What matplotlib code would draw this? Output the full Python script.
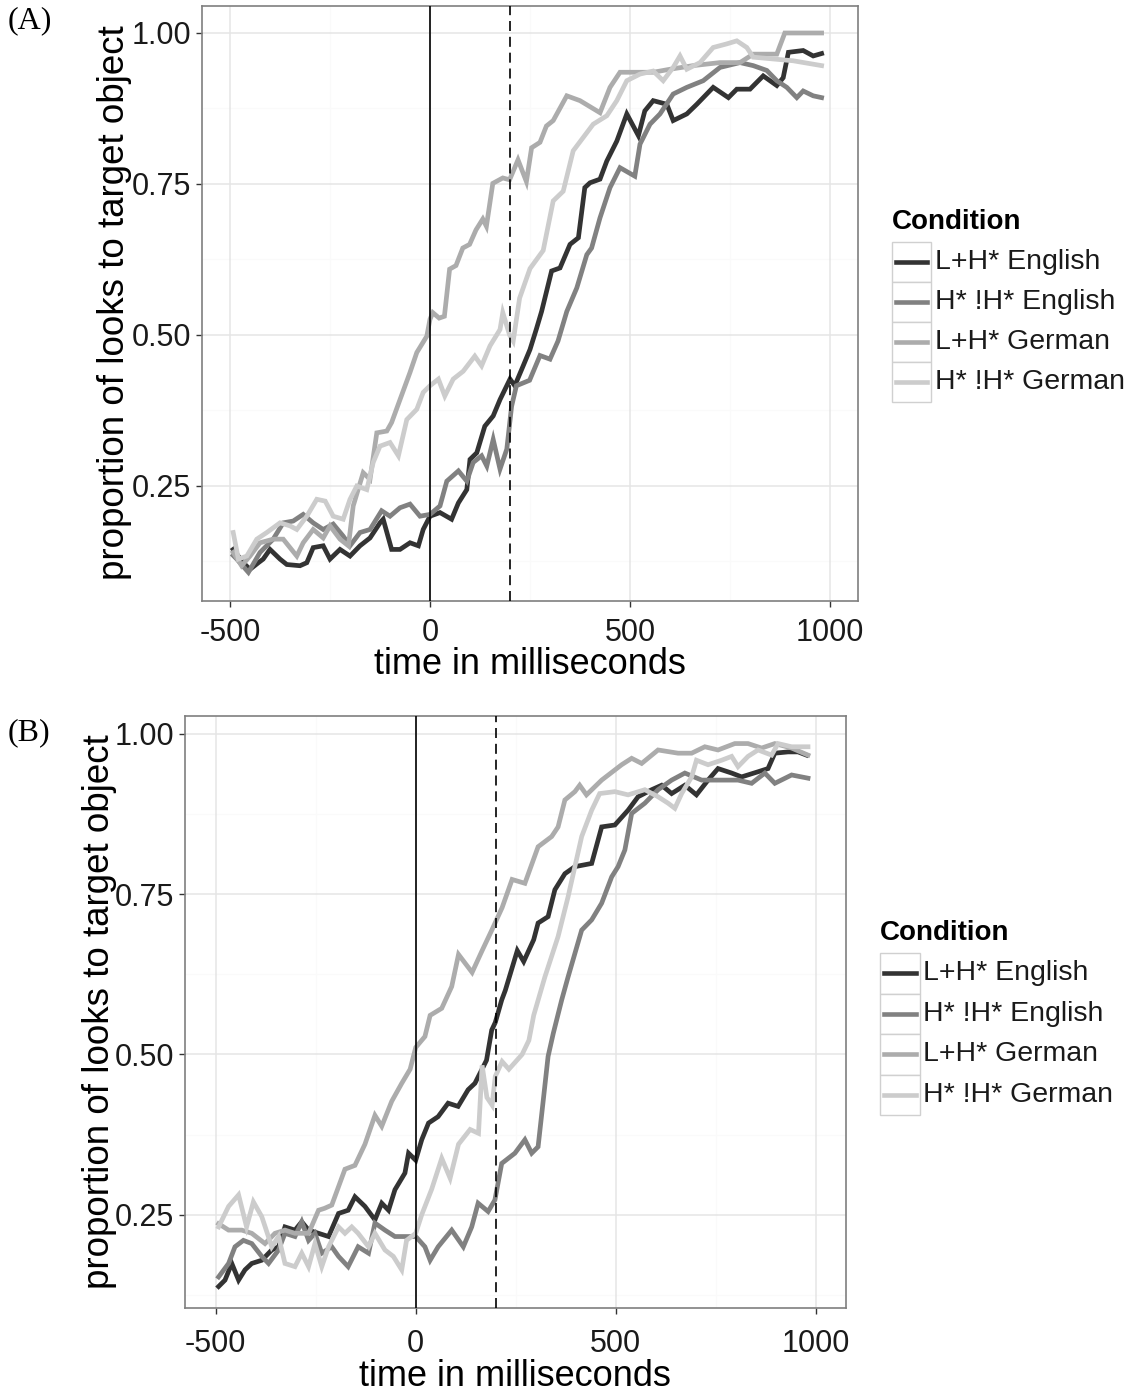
import matplotlib
matplotlib.use('Agg')
import matplotlib.pyplot as plt
from matplotlib.lines import Line2D
from matplotlib.patches import Rectangle

plt.rcParams['font.family'] = ['Liberation Sans', 'DejaVu Sans']
plt.rcParams['axes.unicode_minus'] = False

W, H = 1128, 1392

conditions = ["L+H* English", "H* !H* English", "L+H* German", "H* !H* German"]
colors = ["#333333", "#818181", "#ACACAC", "#CCCCCC"]
x_ticks = [-500, 0, 500, 1000]
x_tick_labels = ["-500", "0", "500", "1000"]
y_ticks = [0.25, 0.50, 0.75, 1.00]
y_tick_labels = ["0.25", "0.50", "0.75", "1.00"]
x_minor = [-250, 250, 750]
y_minor = [0.125, 0.375, 0.625, 0.875]
onset_ms = 0
shift_ms = 200
x_title = "time in milliseconds"
y_title = "proportion of looks to target object"
legend_title = "Condition"

# ---------------- Panel A ----------------
a_lhe_t = [-492, -467, -450, -429, -417, -400, -375, -358, -325, -308, -292, -267, -250, -225, -200,
           -175, -150, -125, -117, -96, -75, -50, -29, -17, 0, 25, 54, 71, 92, 100, 117, 137, 158,
           175, 200, 212, 233, 250, 266, 279, 304, 325, 350, 371, 387, 400, 425, 442, 467, 492,
           521, 537, 558, 592, 608, 642, 667, 708, 746, 767, 800, 833, 867, 883, 896, 933, 958, 979]
a_lhe_v = [0.145, 0.123, 0.112, 0.123, 0.129, 0.145, 0.129, 0.120, 0.118, 0.123, 0.148, 0.151, 0.129,
           0.145, 0.134, 0.151, 0.164, 0.189, 0.195, 0.145, 0.145, 0.156, 0.151, 0.178, 0.200, 0.206,
           0.195, 0.222, 0.244, 0.294, 0.305, 0.349, 0.366, 0.393, 0.427, 0.416, 0.449, 0.476, 0.510,
           0.539, 0.606, 0.611, 0.650, 0.661, 0.744, 0.752, 0.758, 0.788, 0.821, 0.866, 0.830, 0.871,
           0.888, 0.882, 0.855, 0.866, 0.882, 0.910, 0.893, 0.907, 0.907, 0.929, 0.913, 0.926, 0.968,
           0.971, 0.962, 0.966]

a_hhe_t = [-492, -483, -454, -425, -392, -367, -342, -317, -292, -267, -242, -217, -200, -175, -150,
           -121, -100, -75, -50, -25, 0, 25, 42, 71, 92, 108, 129, 142, 158, 175, 192, 204, 216,
           249, 275, 300, 320, 342, 367, 392, 404, 425, 450, 475, 512, 525, 550, 575, 608, 642,
           683, 725, 775, 808, 842, 867, 892, 917, 933, 958, 979]
a_hhe_v = [0.135, 0.129, 0.107, 0.140, 0.162, 0.189, 0.192, 0.203, 0.189, 0.178, 0.187, 0.167, 0.151,
           0.173, 0.178, 0.209, 0.200, 0.214, 0.220, 0.200, 0.203, 0.217, 0.258, 0.275, 0.258, 0.289,
           0.300, 0.283, 0.327, 0.278, 0.311, 0.382, 0.416, 0.425, 0.466, 0.460, 0.490, 0.539, 0.578,
           0.633, 0.644, 0.694, 0.744, 0.777, 0.763, 0.816, 0.849, 0.866, 0.899, 0.910, 0.921, 0.943,
           0.951, 0.946, 0.938, 0.921, 0.910, 0.893, 0.904, 0.896, 0.893]

a_lhg_t = [-492, -471, -450, -425, -392, -367, -333, -317, -292, -267, -250, -225, -204, -192, -167,
           -150, -133, -108, -96, -75, -50, -33, -8, 0, 7, 23, 36, 49, 65, 82, 99, 115, 132, 141,
           157, 182, 199, 220, 241, 254, 275, 291, 308, 342, 375, 425, 450, 475, 517, 558, 600,
           658, 725, 775, 808, 867, 887, 979]
a_lhg_v = [0.140, 0.118, 0.134, 0.156, 0.162, 0.162, 0.134, 0.156, 0.178, 0.164, 0.184, 0.162, 0.151,
           0.217, 0.272, 0.261, 0.338, 0.341, 0.355, 0.393, 0.438, 0.471, 0.498, 0.526, 0.537, 0.528,
           0.531, 0.609, 0.615, 0.644, 0.650, 0.674, 0.692, 0.680, 0.751, 0.760, 0.757, 0.790, 0.754,
           0.810, 0.819, 0.846, 0.855, 0.896, 0.888, 0.868, 0.910, 0.935, 0.935, 0.935, 0.940, 0.946,
           0.951, 0.951, 0.965, 0.965, 1.000, 1.000]

a_hhg_t = [-492, -479, -458, -433, -408, -375, -350, -333, -308, -283, -262, -242, -217, -200, -183,
           -158, -142, -125, -100, -79, -58, -33, -17, 0, 21, 37, 58, 83, 112, 129, 150, 175, 182,
           199, 208, 224, 250, 283, 308, 333, 358, 383, 408, 442, 467, 492, 525, 558, 583, 608,
           625, 642, 675, 708, 742, 767, 792, 808, 858, 908, 979]
a_hhg_v = [0.173, 0.129, 0.134, 0.162, 0.173, 0.189, 0.184, 0.178, 0.200, 0.228, 0.225, 0.200, 0.195,
           0.228, 0.250, 0.244, 0.289, 0.316, 0.322, 0.300, 0.360, 0.377, 0.405, 0.416, 0.427, 0.399,
           0.427, 0.440, 0.465, 0.449, 0.482, 0.509, 0.537, 0.500, 0.490, 0.561, 0.610, 0.640, 0.722,
           0.738, 0.805, 0.827, 0.849, 0.863, 0.888, 0.921, 0.932, 0.937, 0.921, 0.943, 0.962, 0.940,
           0.951, 0.976, 0.982, 0.987, 0.976, 0.960, 0.957, 0.954, 0.946]

# ---------------- Panel B ----------------
b_lhe_t = [-493, -477, -460, -443, -427, -410, -385, -360, -343, -327, -302, -285, -268, -243, -218,
           -193, -169, -152, -127, -102, -85, -68, -52, -27, -18, 0, 15, 32, 56, 81, 106, 131, 148,
           165, 177, 190, 199, 215, 224, 254, 270, 295, 306, 331, 348, 373, 398, 440, 465, 498,
           531, 556, 590, 615, 640, 673, 702, 731, 756, 790, 815, 856, 881, 898, 931, 956, 977]
b_lhe_v = [0.138, 0.148, 0.174, 0.148, 0.164, 0.174, 0.179, 0.195, 0.200, 0.231, 0.226, 0.239, 0.226,
           0.221, 0.216, 0.252, 0.257, 0.278, 0.263, 0.242, 0.268, 0.257, 0.289, 0.315, 0.346, 0.335,
           0.367, 0.393, 0.403, 0.424, 0.419, 0.445, 0.455, 0.476, 0.491, 0.538, 0.550, 0.585, 0.600,
           0.662, 0.645, 0.679, 0.705, 0.715, 0.757, 0.782, 0.793, 0.798, 0.855, 0.858, 0.881, 0.902,
           0.913, 0.920, 0.907, 0.920, 0.905, 0.928, 0.946, 0.939, 0.933, 0.941, 0.946, 0.970, 0.972,
           0.972, 0.967]

b_hhe_t = [-493, -468, -452, -431, -410, -385, -368, -343, -327, -302, -285, -268, -252, -235, -210,
           -193, -169, -144, -118, -102, -77, -52, -27, 0, 23, 36, 56, 90, 119, 140, 156, 181, 198,
           215, 248, 273, 290, 306, 319, 331, 344, 365, 381, 415, 440, 465, 490, 506, 523, 540,
           573, 606, 640, 673, 715, 756, 806, 840, 873, 898, 940, 981]
b_hhe_v = [0.153, 0.174, 0.200, 0.210, 0.205, 0.185, 0.174, 0.195, 0.221, 0.216, 0.239, 0.210, 0.221,
           0.190, 0.200, 0.185, 0.169, 0.200, 0.190, 0.237, 0.226, 0.216, 0.216, 0.216, 0.200, 0.179,
           0.200, 0.226, 0.200, 0.231, 0.268, 0.255, 0.273, 0.330, 0.346, 0.367, 0.346, 0.356, 0.429,
           0.497, 0.533, 0.585, 0.621, 0.694, 0.710, 0.736, 0.777, 0.793, 0.819, 0.876, 0.892, 0.913,
           0.928, 0.939, 0.928, 0.928, 0.928, 0.923, 0.939, 0.923, 0.936, 0.931]

b_lhg_t = [-493, -468, -435, -410, -377, -352, -327, -302, -268, -243, -228, -210, -177, -152, -127,
           -102, -85, -60, -35, -14, 0, 23, 36, 65, 90, 107, 141, 166, 191, 216, 241, 273, 306,
           340, 356, 373, 398, 410, 427, 465, 515, 540, 565, 606, 656, 690, 723, 756, 798, 831,
           865, 898, 940, 981]
b_lhg_v = [0.236, 0.226, 0.226, 0.221, 0.205, 0.221, 0.226, 0.221, 0.221, 0.257, 0.260, 0.265, 0.321,
           0.327, 0.360, 0.405, 0.388, 0.427, 0.455, 0.477, 0.511, 0.528, 0.561, 0.572, 0.606, 0.656,
           0.628, 0.662, 0.695, 0.729, 0.773, 0.767, 0.824, 0.840, 0.855, 0.897, 0.910, 0.920, 0.905,
           0.928, 0.952, 0.962, 0.954, 0.975, 0.970, 0.970, 0.980, 0.975, 0.985, 0.985, 0.978, 0.985,
           0.978, 0.967]

b_hhg_t = [-493, -468, -443, -423, -406, -385, -360, -343, -327, -302, -285, -268, -252, -235, -218,
           -193, -177, -160, -144, -118, -102, -77, -56, -35, -23, 0, 15, 40, 65, 86, 107, 136, 157,
           166, 178, 191, 199, 216, 233, 266, 283, 295, 323, 356, 381, 398, 415, 440, 460, 498,
           531, 573, 606, 631, 648, 665, 690, 702, 731, 765, 790, 806, 831, 856, 890, 906, 940, 981]
b_hhg_v = [0.231, 0.263, 0.281, 0.231, 0.270, 0.247, 0.200, 0.216, 0.174, 0.169, 0.190, 0.169, 0.205,
           0.169, 0.200, 0.231, 0.221, 0.231, 0.221, 0.200, 0.221, 0.195, 0.185, 0.164, 0.210, 0.221,
           0.250, 0.290, 0.338, 0.307, 0.360, 0.383, 0.377, 0.483, 0.433, 0.421, 0.466, 0.489, 0.477,
           0.500, 0.522, 0.561, 0.621, 0.684, 0.746, 0.793, 0.840, 0.881, 0.907, 0.910, 0.905, 0.913,
           0.902, 0.892, 0.884, 0.907, 0.933, 0.959, 0.952, 0.959, 0.965, 0.949, 0.965, 0.975, 0.967,
           0.985, 0.980, 0.980]

panel_a = [(a_lhe_t, a_lhe_v), (a_hhe_t, a_hhe_v), (a_lhg_t, a_lhg_v), (a_hhg_t, a_hhg_v)]
panel_b = [(b_lhe_t, b_lhe_v), (b_hhe_t, b_hhe_v), (b_lhg_t, b_lhg_v), (b_hhg_t, b_hhg_v)]

fig = plt.figure(figsize=(W / 100, H / 100), dpi=100)


def fx(x):
    return x / W


def fy(y):
    return 1 - y / H


def draw_panel(rect, xlim, ylim, series, leg, title_pos, ytitle_pos, tag, tag_pos, xpad):
    l, t, r, b = rect
    ax = fig.add_axes([fx(l), fy(b), (r - l) / W, (b - t) / H])
    ax.set_xlim(*xlim)
    ax.set_ylim(*ylim)
    ax.set_facecolor('white')
    for v in x_minor:
        ax.axvline(v, color='#fafafa', lw=1.0, zorder=0)
    for v in y_minor:
        ax.axhline(v, color='#fafafa', lw=1.0, zorder=0)
    for v in x_ticks:
        ax.axvline(v, color='#e5e5e5', lw=1.1, zorder=0.5)
    for v in y_ticks:
        ax.axhline(v, color='#e5e5e5', lw=1.1, zorder=0.5)
    for (ts, vs), c in zip(series, colors):
        ax.plot(ts, vs, color=c, lw=3.4, solid_joinstyle='miter', zorder=2)
    ax.axvline(onset_ms, color='black', lw=1.2, zorder=3)
    ax.axvline(shift_ms, color='black', lw=1.2, ls=(0, (6, 3.5)), zorder=3)
    ax.set_xticks(x_ticks)
    ax.set_xticklabels(x_tick_labels)
    ax.set_yticks(y_ticks)
    ax.set_yticklabels(y_tick_labels)
    ax.tick_params(axis='both', direction='out', length=4, width=1.0, color='#333333',
                   labelsize=22, labelcolor='#1a1a1a')
    ax.tick_params(axis='x', pad=xpad)
    ax.tick_params(axis='y', pad=4)
    for s in ax.spines.values():
        s.set_color('#7f7f7f')
        s.set_linewidth(1.2)
    # axis titles
    fig.text(fx(title_pos[0]), fy(title_pos[1]), x_title, ha='center', va='center',
             fontsize=26, color='black')
    fig.text(fx(ytitle_pos[0]), fy(ytitle_pos[1]), y_title, ha='center', va='center',
             fontsize=26.5, color='black', rotation=90)
    # panel tag
    fig.text(fx(tag_pos[0]), fy(tag_pos[1]), tag, ha='left', va='center', fontsize=23,
             family=['Liberation Serif', 'DejaVu Serif'], color='black')
    # legend
    lx, ty, kw, kh, tx = leg
    fig.text(fx(lx), fy(ty), legend_title, ha='left', va='center', fontsize=20,
             fontweight='bold', color='black')
    top = ty + 20
    for i, (name, c) in enumerate(zip(conditions, colors)):
        y0 = top + i * kh
        fig.add_artist(Rectangle((fx(lx), fy(y0 + kh)), kw / W, kh / H, transform=fig.transFigure,
                                 facecolor='white', edgecolor='#d0d0d0', lw=1.0))
        fig.add_artist(Line2D([fx(lx + 4), fx(lx + kw - 4)], [fy(y0 + kh / 2)] * 2,
                              transform=fig.transFigure, color=c, lw=3.3))
        fig.text(fx(tx), fy(y0 + kh / 2), name, ha='left', va='center', fontsize=20.5,
                 color='#1a1a1a')
    return ax


draw_panel((202, 6, 858, 601), (-570, 1070), (0.0596, 1.0447), panel_a,
           (892, 222, 39, 40, 935), (530, 665), (115, 303), "(A)", (8, 21), 8)
draw_panel((185, 716, 846, 1308), (-577, 1076), (0.1045, 1.028), panel_b,
           (880, 933, 40, 40.5, 923), (515, 1377), (100, 1012), "(B)", (8, 733), 11)

fig.savefig('out.png', dpi=100, facecolor='white')
